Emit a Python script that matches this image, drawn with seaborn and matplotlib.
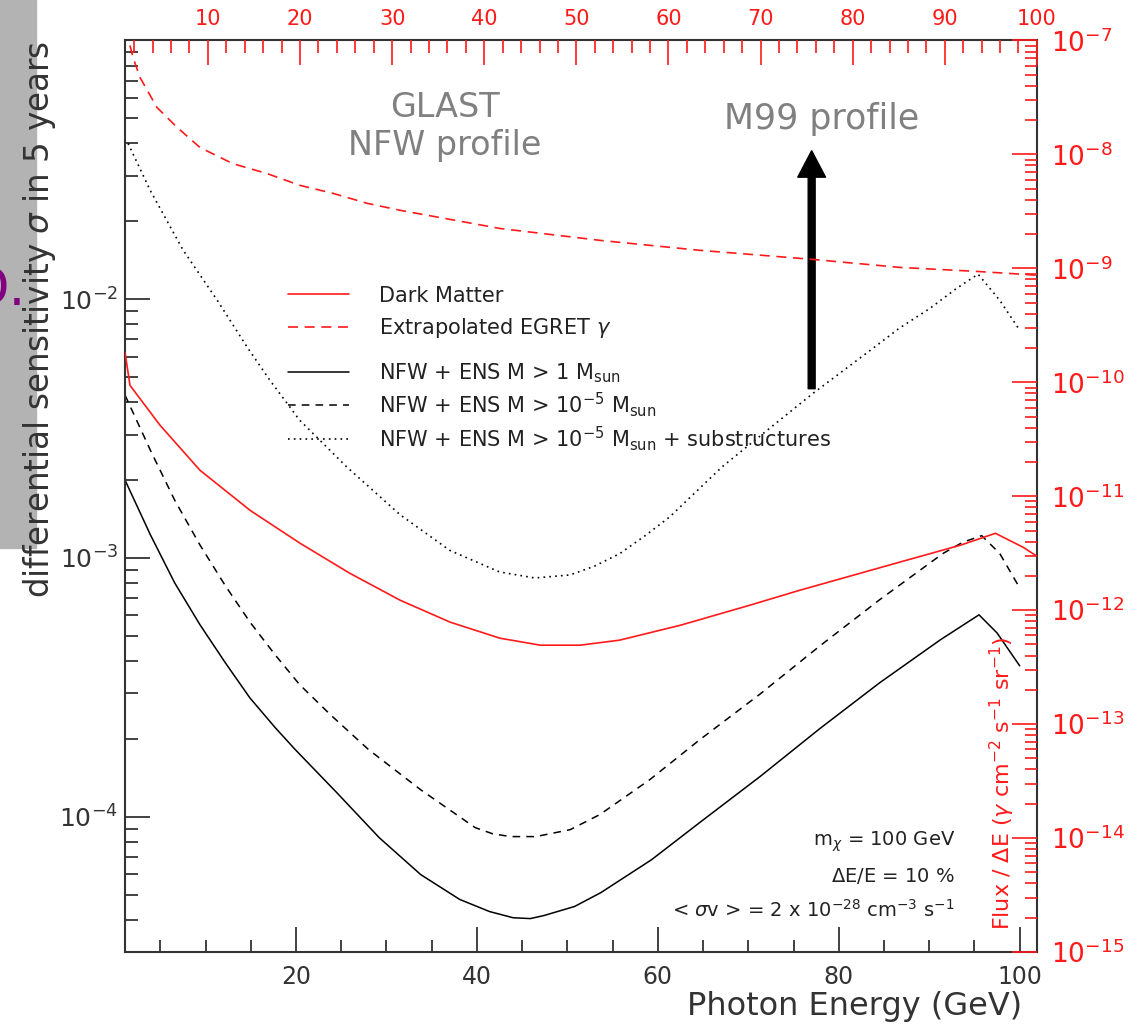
import numpy as np
import pandas as pd
import matplotlib
matplotlib.use("Agg")
import matplotlib.pyplot as plt
import seaborn as sns
from matplotlib.ticker import FixedLocator, MultipleLocator, LogLocator, NullFormatter
from matplotlib.lines import Line2D
from matplotlib.patches import Rectangle

# ---------------- data ----------------
# Dark matter flux (red, top/right axes)
dm_energy = [1.0, 1.54, 4.8, 9.14, 14.6, 20.0, 25.4, 30.9, 36.3, 41.7, 46.1, 50.4, 54.7,
             61.3, 68.9, 74.3, 79.7, 85.1, 91.7, 95.5, 98.5, 100.0]
dm_flux = [1.83e-10, 9.4e-11, 4.2e-11, 1.69e-11, 7.5e-12, 3.87e-12, 2.11e-12, 1.22e-12,
           7.85e-13, 5.68e-13, 4.93e-13, 4.93e-13, 5.46e-13, 7.38e-13, 1.11e-12, 1.50e-12,
           1.99e-12, 2.64e-12, 3.72e-12, 4.73e-12, 3.57e-12, 2.98e-12]

# Extrapolated EGRET gamma background (red dashed)
egret_energy = [1.2, 1.54, 1.87, 2.63, 4.47, 6.65, 9.14, 12.7, 16.4, 20.0, 23.6, 27.3, 30.9,
                41.7, 52.6, 63.4, 75.6, 85.1, 93.5, 98.7, 100.0]
egret_flux = [1.26e-7, 9.0e-8, 7.1e-8, 4.73e-8, 2.58e-8, 1.73e-8, 1.15e-8, 8.3e-9, 6.8e-9,
              5.35e-9, 4.55e-9, 3.72e-9, 3.23e-9, 2.24e-9, 1.76e-9, 1.44e-9, 1.20e-9,
              1.02e-9, 9.4e-10, 8.85e-10, 8.7e-10]

# NFW + ENS M > 1 Msun (black solid)
ens1_energy = [1.1, 3.9, 6.6, 9.4, 12.2, 14.9, 17.7, 19.9, 24.5, 29.2, 33.8, 38.1, 41.4, 44.0,
               45.9, 47.4, 50.8, 53.7, 59.3, 64.6, 71.3, 77.9, 84.5, 91.2, 95.5, 97.5, 100.0]
ens1_sens = [2.00e-3, 1.23e-3, 8.0e-4, 5.51e-4, 3.93e-4, 2.88e-4, 2.21e-4, 1.82e-4, 1.24e-4,
             8.3e-5, 5.97e-5, 4.79e-5, 4.30e-5, 4.07e-5, 4.04e-5, 4.15e-5, 4.50e-5, 5.09e-5,
             6.82e-5, 9.48e-5, 1.43e-4, 2.19e-4, 3.29e-4, 4.82e-4, 6.03e-4, 5.13e-4, 3.83e-4]

# NFW + ENS M > 1e-5 Msun (black dashed)
ens5_energy = [1.1, 3.9, 6.6, 9.4, 12.2, 14.9, 17.7, 20.4, 23.8, 28.0, 33.8, 39.8, 41.7, 43.7,
               46.5, 50.3, 53.6, 59.1, 64.6, 71.3, 77.9, 84.5, 91.5, 93.7, 95.8, 97.8, 100.0]
ens5_sens = [4.26e-3, 2.61e-3, 1.67e-3, 1.12e-3, 7.8e-4, 5.66e-4, 4.22e-4, 3.24e-4, 2.48e-4,
             1.82e-4, 1.27e-4, 9.08e-5, 8.6e-5, 8.38e-5, 8.38e-5, 8.91e-5, 1.02e-4, 1.39e-4,
             1.98e-4, 2.98e-4, 4.57e-4, 6.89e-4, 1.04e-3, 1.15e-3, 1.22e-3, 1.04e-3, 7.66e-4]

# NFW + ENS M > 1e-5 Msun + substructures (black dotted)
sub_energy = [1.44, 3.87, 7.51, 11.3, 14.6, 17.1, 20.4, 25.6, 31.5, 37.0, 42.5, 46.4, 50.3,
              53.0, 55.8, 58.6, 61.3, 67.1, 72.4, 77.2, 83.8, 86.7, 90.1, 93.0, 95.4, 97.8,
              100.0]
sub_sens = [4.0e-2, 2.64e-2, 1.55e-2, 9.9e-3, 6.53e-3, 4.87e-3, 3.41e-3, 2.25e-3, 1.47e-3,
            1.07e-3, 8.83e-4, 8.37e-4, 8.6e-4, 9.3e-4, 1.04e-3, 1.22e-3, 1.44e-3, 2.25e-3,
            3.18e-3, 4.34e-3, 6.47e-3, 7.73e-3, 9.23e-3, 1.10e-2, 1.25e-2, 9.9e-3, 7.59e-3]

legend_red = ["Dark Matter", r"Extrapolated EGRET $\gamma$"]
legend_black = [r"NFW + ENS M > 1 M$_{\rm sun}$",
                r"NFW + ENS M > 10$^{-5}$ M$_{\rm sun}$",
                r"NFW + ENS M > 10$^{-5}$ M$_{\rm sun}$ + substructures"]
bottom_ticks = [20, 40, 60, 80, 100]
top_ticks = [10, 20, 30, 40, 50, 60, 70, 80, 90, 100]
left_ticks = [1e-4, 1e-3, 1e-2]
right_ticks = [1e-15, 1e-14, 1e-13, 1e-12, 1e-11, 1e-10, 1e-9, 1e-8, 1e-7]

# ---------------- style ----------------
sns.set_style("ticks")
plt.rcParams['font.family'] = ['DejaVu Sans']
plt.rcParams['mathtext.fontset'] = 'dejavusans'

RED = '#ff1a1a'
DARK = '#333333'

fig = plt.figure(figsize=(11.47, 10.30), dpi=100)
rect = [0.109, 0.0757, 0.795, 0.885]
ax = fig.add_axes(rect, label="main")
ax2 = fig.add_axes(rect, label="flux", frameon=False)
ax2.patch.set_visible(False)

ax.set_yscale('log')
ax2.set_yscale('log')

# black curves (bottom / left axes)
sns.lineplot(x=ens1_energy, y=ens1_sens, ax=ax, color='black', lw=1.1, legend=False)
sns.lineplot(x=ens5_energy, y=ens5_sens, ax=ax, color='black', lw=1.1,
             linestyle=(0, (5, 4)), legend=False)
sns.lineplot(x=sub_energy, y=sub_sens, ax=ax, color='black', lw=1.2,
             linestyle=(0, (1, 2.5)), legend=False)

# red curves (top / right axes)
sns.lineplot(x=dm_energy, y=dm_flux, ax=ax2, color=RED, lw=1.2, legend=False)
sns.lineplot(x=egret_energy, y=egret_flux, ax=ax2, color=RED, lw=1.2,
             linestyle=(0, (6, 4)), legend=False)

ax.set_xlim(1.1, 101.9)
ax.set_ylim(3e-5, 0.1)
ax2.set_xlim(1, 100)
ax2.set_ylim(1e-15, 1e-7)

# ---- main axis ticks ----
ax.xaxis.set_major_locator(FixedLocator(bottom_ticks))
ax.xaxis.set_minor_locator(MultipleLocator(5))
ax.yaxis.set_major_locator(FixedLocator(left_ticks))
ax.yaxis.set_minor_locator(LogLocator(base=10, subs=np.arange(2, 10), numticks=20))
ax.yaxis.set_minor_formatter(NullFormatter())
ax.tick_params(which='both', direction='in', top=False, right=False,
               colors=DARK, width=1.3)
ax.tick_params(which='major', length=18)
ax.tick_params(which='minor', length=9)
ax.tick_params(axis='y', which='major', labelsize=18, pad=5)
ax.tick_params(axis='x', which='major', labelsize=17, pad=9)
for s in ax.spines.values():
    s.set_color(DARK)
    s.set_linewidth(1.5)

# ---- red axes ticks ----
ax2.xaxis.tick_top()
ax2.yaxis.tick_right()
ax2.xaxis.set_major_locator(FixedLocator(top_ticks))
ax2.xaxis.set_minor_locator(MultipleLocator(2))
ax2.yaxis.set_major_locator(FixedLocator(right_ticks))
ax2.yaxis.set_minor_locator(LogLocator(base=10, subs=np.arange(2, 10), numticks=30))
ax2.yaxis.set_minor_formatter(NullFormatter())
ax2.tick_params(which='both', direction='in', colors=RED, width=1.2)
ax2.tick_params(which='major', length=18)
ax2.tick_params(which='minor', length=9)
ax2.tick_params(axis='x', which='major', labelsize=15, pad=8)
ax2.tick_params(axis='y', which='major', labelsize=19, pad=10)
ax2.tick_params(axis='x', bottom=False, labelbottom=False, top=True, labeltop=True)
ax2.tick_params(axis='y', left=False, labelleft=False, right=True, labelright=True)

# ---- axis labels ----
ax.set_xlabel("Photon Energy (GeV)", fontsize=23, color=DARK, ha='right')
ax.xaxis.set_label_coords(0.984, -0.043)
ax.set_ylabel(r"differential sensitivity $\sigma$ in 5 years", fontsize=23.5,
              color=DARK, ha='right')
ax.yaxis.set_label_coords(-0.074, 1.0)

ax2.text(0.962, 0.024, r"Flux / $\Delta$E ($\gamma$ cm$^{-2}$ s$^{-1}$ sr$^{-1}$)",
         transform=ax2.transAxes, rotation=90, color=RED, fontsize=16,
         ha='center', va='bottom')

# ---- legends ----
h_red = [Line2D([], [], color=RED, lw=1.2),
         Line2D([], [], color=RED, lw=1.2, linestyle=(0, (6, 4)))]
h_blk = [Line2D([], [], color='black', lw=1.1),
         Line2D([], [], color='black', lw=1.1, linestyle=(0, (5, 4))),
         Line2D([], [], color='black', lw=1.2, linestyle=(0, (1, 2.5)))]
leg1 = ax2.legend(h_red, legend_red, loc='upper left', bbox_to_anchor=(0.179, 0.731),
                  frameon=False, fontsize=15, handlelength=2.9, handletextpad=1.45,
                  labelspacing=0.5, borderpad=0, borderaxespad=0, labelcolor='#222222')
ax2.add_artist(leg1)
leg2 = ax2.legend(h_blk, legend_black, loc='upper left', bbox_to_anchor=(0.179, 0.648),
                  frameon=False, fontsize=15, handlelength=2.9, handletextpad=1.45,
                  labelspacing=0.25, borderpad=0, borderaxespad=0, labelcolor='#222222')

# ---- annotations ----
ax.text(0.351, 0.906, "GLAST\nNFW profile", transform=ax.transAxes, ha='center',
        va='center', fontsize=24, color='#808080', linespacing=1.2)
ax.text(0.764, 0.914, "M99 profile", transform=ax.transAxes, ha='center',
        va='center', fontsize=25, color='#808080')
ax.annotate('', xy=(0.753, 0.879), xytext=(0.753, 0.618),
            xycoords='axes fraction', textcoords='axes fraction',
            arrowprops=dict(width=5, headwidth=20, headlength=19,
                            color='black', shrink=0))

ax.text(0.910, 0.121, r"m$_\chi$ = 100 GeV", transform=ax.transAxes,
        ha='right', va='center', fontsize=14, color='#222222')
ax.text(0.910, 0.083, r"$\Delta$E/E = 10 %", transform=ax.transAxes,
        ha='right', va='center', fontsize=14, color='#222222')
ax.text(0.910, 0.046, r"< $\sigma$v > = 2 x 10$^{-28}$ cm$^{-3}$ s$^{-1}$",
        transform=ax.transAxes, ha='right', va='center', fontsize=14, color='#222222')

# ---- slide remnants on the left ----
fig.add_artist(Rectangle((0, 1 - 548 / 1030), 36 / 1147, 548 / 1030,
                         transform=fig.transFigure, color='#b3b3b3', zorder=-1))
fig.text(26 / 1147, 1 - 305 / 1030, "D.", color='#800080', fontsize=38,
         ha='right', va='baseline')

fig.savefig("out.png", dpi=100)
